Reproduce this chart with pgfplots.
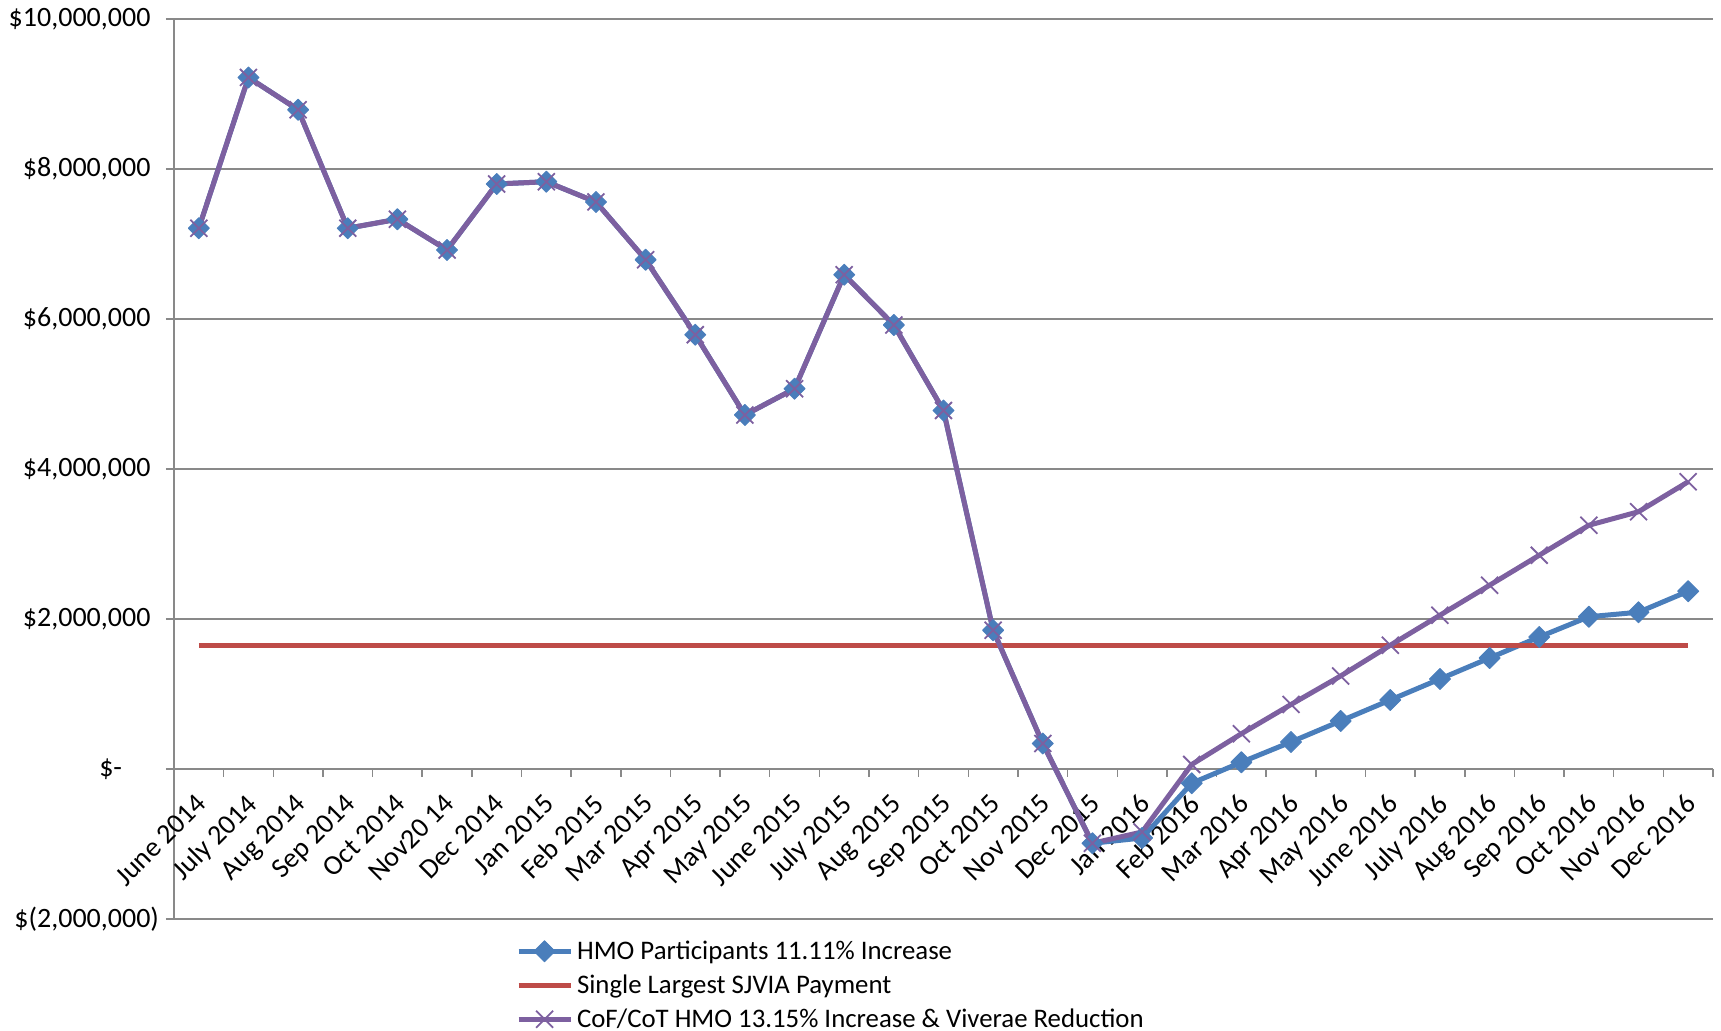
\documentclass[border=0pt]{standalone}
\usepackage{pgfplots}
\pgfplotsset{compat=1.18}
\usepackage{fontspec}
\setmainfont{Carlito}
\definecolor{hmoblue}{HTML}{4A7EBB}
\definecolor{sjred}{HTML}{BE4B48}
\definecolor{cofpurple}{HTML}{7D60A0}
\definecolor{gridgray}{HTML}{898989}
\begin{document}
\begin{tikzpicture}
\useasboundingbox (-87pt,-56pt) rectangle (773.5pt,459.5pt);
\begin{axis}[
  at={(0,0)}, anchor=south west,
  scale only axis, width=769.5pt, height=450pt,
  xmin=-0.5, xmax=30.5, ymin=-2000000, ymax=10000000,
  axis y line*=left, axis x line*=middle,
  axis line style={draw=gridgray, line width=0.75pt},
  ymajorgrids, grid style={draw=gridgray, line width=0.75pt},
  ytick={-2000000,0,2000000,4000000,6000000,8000000,10000000},
  yticklabels={{\$(2,000,000)},{\$-\hphantom{00)}},{\$2,000,000\hphantom{)}},{\$4,000,000\hphantom{)}},{\$6,000,000\hphantom{)}},{\$8,000,000\hphantom{)}},{\$10,000,000\hphantom{)}}},
  scaled y ticks=false,
  xtick={0,...,30},
  xticklabels={June 2014,July 2014,Aug 2014,Sep 2014,Oct 2014,Nov20 14,Dec 2014,Jan 2015,Feb 2015,Mar 2015,Apr 2015,May 2015,June 2015,July 2015,Aug 2015,Sep 2015,Oct 2015,Nov 2015,Dec 2015,Jan 2016,Feb 2016,Mar 2016,Apr 2016,May 2016,June 2016,July 2016,Aug 2016,Sep 2016,Oct 2016,Nov 2016,Dec 2016},
  minor xtick={-0.5,0.5,...,30.5},
  major x tick style={draw=none},
  minor x tick style={draw=gridgray, line width=0.75pt},
  major y tick style={draw=gridgray, line width=0.75pt},
  tick align=outside,
  major tick length=4pt, minor tick length=4pt,
  xticklabel style={xshift=-2pt, yshift=-2.8pt, rotate=45, anchor=north east, font=\fontsize{14}{16}\selectfont},
  yticklabel style={font=\fontsize{14}{16}\selectfont},
  legend style={at={(0.222,-0.019)}, anchor=north west, draw=none, fill=none,
    font=\fontsize{13.4}{15}\selectfont, row sep=2.2pt, inner sep=0pt},
  legend cell align=left,
  legend image code/.code={\draw[mark repeat=2,mark phase=2,#1] plot coordinates {(0pt,0pt) (13pt,0pt) (26pt,0pt)};},
]
\addplot[hmoblue, line width=2.5pt, line join=round, mark=square*, mark size=3.7pt,
  mark options={rotate=45, fill=hmoblue, draw=hmoblue, line width=0.5pt}] coordinates {
(0,7210000) (1,9220000) (2,8790000) (3,7210000) (4,7330000) (5,6920000) (6,7800000)
(7,7830000) (8,7560000) (9,6790000) (10,5790000) (11,4720000) (12,5070000) (13,6590000)
(14,5920000) (15,4780000) (16,1850000) (17,340000) (18,-990000) (19,-920000) (20,-190000)
(21,90000) (22,360000) (23,640000) (24,920000) (25,1200000) (26,1480000) (27,1760000)
(28,2030000) (29,2090000) (30,2370000)};
\addlegendentry{HMO Participants 11.11\% Increase}
\addplot[sjred, line width=2.5pt, mark=none] coordinates {(0,1640000) (30,1640000)};
\addlegendentry{Single Largest SJVIA Payment}
\addplot[cofpurple, line width=2.5pt, line join=round, mark=x, mark size=6pt,
  mark options={line width=0.9pt}] coordinates {
(0,7210000) (1,9220000) (2,8790000) (3,7210000) (4,7330000) (5,6920000) (6,7800000)
(7,7830000) (8,7560000) (9,6790000) (10,5790000) (11,4720000) (12,5070000) (13,6590000)
(14,5920000) (15,4780000) (16,1850000) (17,340000) (18,-990000) (19,-840000) (20,60000)
(21,470000) (22,860000) (23,1240000) (24,1650000) (25,2050000) (26,2450000) (27,2850000)
(28,3250000) (29,3430000) (30,3830000)};
\addlegendentry{CoF/CoT HMO 13.15\% Increase \& Viverae Reduction}
\end{axis}
\end{tikzpicture}
\end{document}
